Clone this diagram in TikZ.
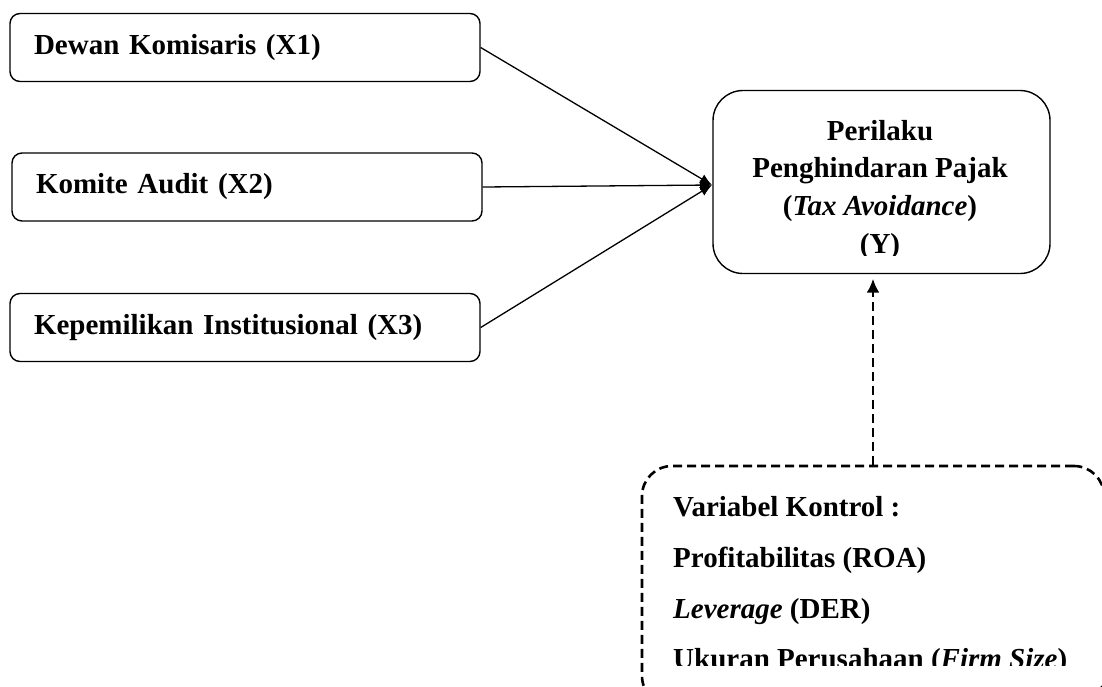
\documentclass[tikz,border=0pt]{standalone}
\usepackage{fontspec}
\setmainfont{Liberation Serif}
\usetikzlibrary{arrows.meta}
\tikzstyle{lbox} = [draw, line width=1.4pt, rounded corners=10pt, minimum width=470pt, minimum height=68pt, text width=422pt, inner xsep=24pt, align=left]
\tikzstyle{ybox} = [draw, line width=1.4pt, rounded corners=30pt, minimum width=337pt, minimum height=183pt]
\tikzstyle{ctrl} = [draw, line width=2.6pt, dash pattern=on 9pt off 5pt, rounded corners=30pt, minimum width=462pt, minimum height=240pt]
\tikzstyle{txt} = [inner sep=0pt]
\tikzstyle{l} = [line width=1.3pt, -{Latex[length=12pt,width=10pt]}]

\begin{document}
\begin{tikzpicture}[x=1pt, y=-1pt, font=\fontsize{29}{37}\selectfont\bfseries]
    \useasboundingbox (0,0) rectangle (1102,686);

    % independent variables
    \foreach \n/\x/\y/\t in {1/245/47.5/Dewan Komisaris (X1), 2/247/187/Komite Audit (X2), 3/245/327.5/Kepemilikan Institusional (X3)}
    \node[lbox] (x\n) at (\x,\y) {\t};

    % dependent variable
    \node[ybox] (y) at (881.5,182) {};
    \begin{scope}
        \clip (713,91) rectangle (1050,255);
        \foreach \t/\y in {Perilaku/140, Penghindaran Pajak/177, (\textit{Tax Avoidance})/215, (Y)/253}
        \node[txt, anchor=base] at (880,\y) {\t};
    \end{scope}

    % control variables
    \node[ctrl] (c) at (873,586) {};
    \begin{scope}
        \clip (650,470) rectangle (1095,665);
        \foreach \t/\y in {Variabel Kontrol :/516, Profitabilitas (ROA)/567, \textit{Leverage} (DER)/618, Ukuran Perusahaan (\textit{Firm Size})/668}
        \node[txt, anchor=base west] at (673,\y) {\t};
    \end{scope}

    \coordinate (yin) at (712,185);
    \foreach \f in {x1, x2, x3}
    \draw[l] (\f.east) -- (yin);

    \draw[l, line width=2.6pt, dash pattern=on 9pt off 5pt, -{Latex[length=14pt,width=13pt]}] (c.north) -- ([yshift=-4.5pt]y.south -| c.north);
\end{tikzpicture}
\end{document}
